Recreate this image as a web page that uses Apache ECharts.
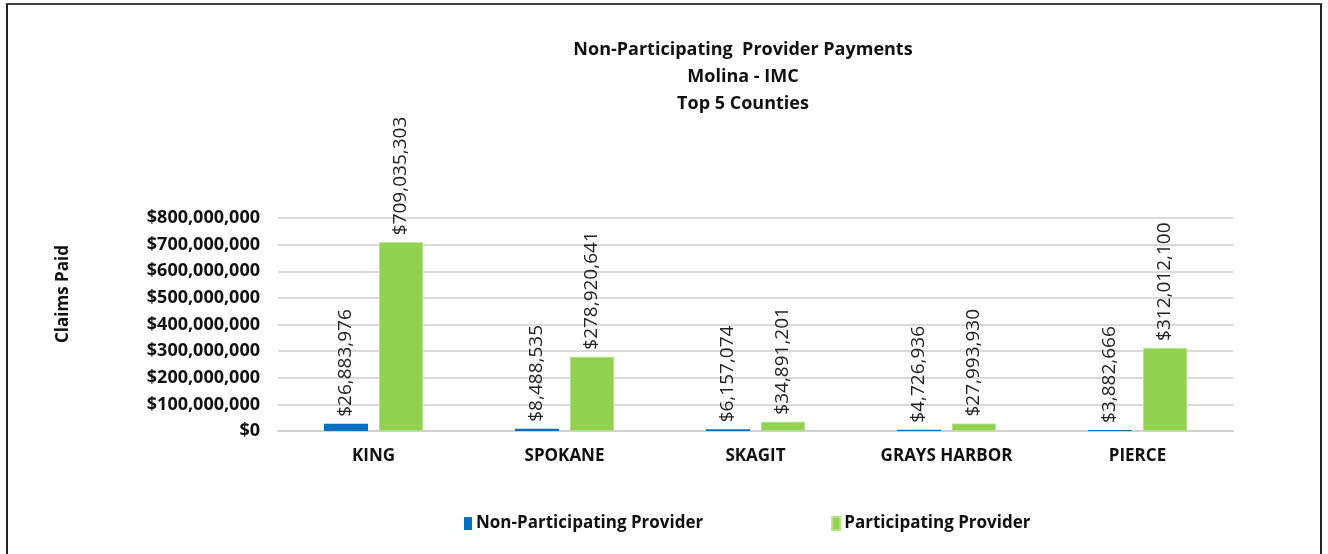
<!DOCTYPE html>
<html>
<head>
<meta charset="utf-8">
<script src="https://cdn.jsdelivr.net/npm/echarts@6/dist/echarts.min.js"></script>
<style>
  html, body { margin: 0; padding: 0; background: #fff; }
  #frame {
    position: absolute; left: 6px; top: 3px; width: 1316px; height: 560px;
    border: 2px solid #222; border-top-color: #444; box-sizing: border-box;
  }
  #chart { position: absolute; left: 0; top: 0; width: 1328px; height: 554px; }
</style>
</head>
<body>
<div id="frame"></div>
<div id="chart"></div>
<script>
// 数据
const counties = ['KING', 'SPOKANE', 'SKAGIT', 'GRAYS HARBOR', 'PIERCE']
const nonParticipating = [26883976, 8488535, 6157074, 4726936, 3882666]
const participating = [709035303, 278920641, 34891201, 27993930, 312012100]
const yTicks = [0, 800000000, 100000000] // min, max, interval

const fontFamily = 'Open Sans, Noto Sans, sans-serif'

function money(v) {
  return '$' + Math.round(v).toLocaleString('en-US')
}

const chart = echarts.init(document.getElementById('chart'))

const labelStyle = {
  show: true,
  position: 'top',
  rotate: 90,
  align: 'left',
  verticalAlign: 'middle',
  distance: 7,
  color: '#222',
  fontFamily: fontFamily,
  fontSize: 19,
  formatter: p => money(p.value)
}

chart.setOption({
  animation: false,
  title: {
    text: 'Non-Participating  Provider Payments\nMolina - IMC\nTop 5 Counties',
    left: 738,
    textAlign: 'center',
    top: 31,
    textStyle: {
      fontFamily: fontFamily,
      fontSize: 18,
      fontWeight: 'bold',
      color: '#111',
      lineHeight: 27
    }
  },
  graphic: [{
    type: 'text',
    x: 63,
    y: 294,
    rotation: Math.PI / 2,
    style: {
      text: 'Claims Paid',
      fontFamily: fontFamily,
      fontSize: 17,
      fontWeight: 'bold',
      fill: '#111',
      align: 'center',
      verticalAlign: 'middle'
    }
  }],
  legend: {
    bottom: 17,
    left: 459,
    itemGap: 128,
    itemWidth: 8,
    itemHeight: 13,
    icon: 'rect',
    textStyle: {
      fontFamily: fontFamily,
      fontSize: 17,
      fontWeight: 'bold',
      color: '#111',
      padding: [0, 0, 0, -1]
    },
    data: ['Non-Participating Provider', 'Participating Provider']
  },
  grid: {
    left: 278,
    right: 95,
    top: 218,
    bottom: 123,
    containLabel: false
  },
  xAxis: {
    type: 'category',
    data: counties,
    axisTick: { show: false },
    axisLine: { lineStyle: { color: '#d0d0d0', width: 2 } },
    axisLabel: {
      margin: 17,
      fontFamily: fontFamily,
      fontSize: 17,
      fontWeight: 'bold',
      color: '#111'
    }
  },
  yAxis: {
    type: 'value',
    min: yTicks[0],
    max: yTicks[1],
    interval: yTicks[2],
    axisLine: { show: false },
    axisTick: { show: false },
    splitLine: { lineStyle: { color: '#d9d9d9', width: 2 } },
    axisLabel: {
      margin: 18,
      fontFamily: fontFamily,
      fontSize: 18,
      fontWeight: 'bold',
      color: '#111',
      formatter: v => money(v)
    }
  },
  series: [
    {
      name: 'Non-Participating Provider',
      type: 'bar',
      data: nonParticipating,
      barWidth: 44,
      barGap: '25%',
      itemStyle: { color: '#0070C0' },
      label: labelStyle
    },
    {
      name: 'Participating Provider',
      type: 'bar',
      data: participating,
      barWidth: 44,
      itemStyle: { color: '#92D050', borderColor: '#b5e08a', borderWidth: 1 },
      label: labelStyle
    }
  ]
})
</script>
</body>
</html>
